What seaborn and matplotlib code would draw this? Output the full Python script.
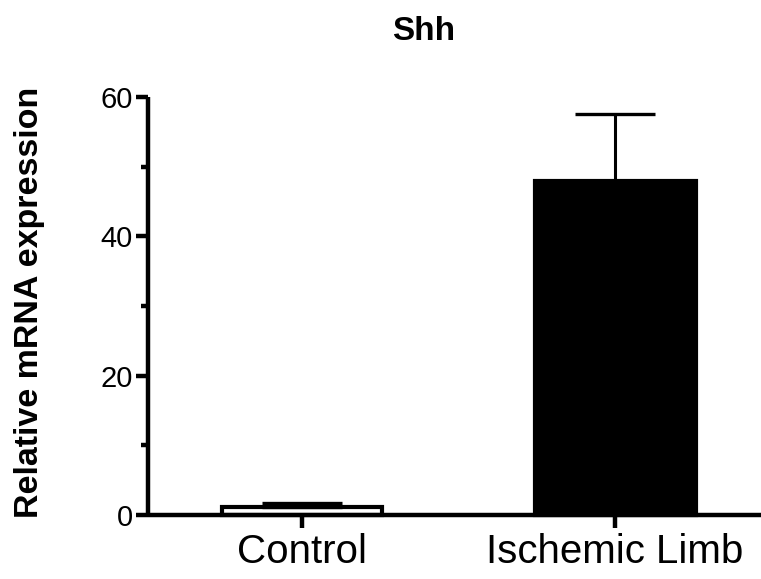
import numpy as np
import pandas as pd
import matplotlib
matplotlib.use("Agg")
import matplotlib.pyplot as plt
import seaborn as sns
from matplotlib.ticker import MultipleLocator

groups = ["Control", "Ischemic Limb"]
means = [1.1, 47.9]
sems = [0.6, 9.6]
bar_colors = ["white", "black"]

sns.set_style("ticks", rc={"axes.edgecolor": "black", "text.color": "black",
                           "xtick.color": "black", "ytick.color": "black",
                           "axes.labelcolor": "black"})
plt.rcParams["font.family"] = ["Liberation Sans", "DejaVu Sans"]

df = pd.DataFrame({"group": groups, "mean": means})

fig = plt.figure(figsize=(7.61, 5.79), dpi=100)
ax = fig.add_axes([148 / 761, 64 / 579, 1 - 148 / 761, 418 / 579])

sns.barplot(data=df, x="group", y="mean", hue="group", palette=bar_colors,
            edgecolor="black", linewidth=3, width=0.514, legend=False, ax=ax)
ax.errorbar(x=np.arange(len(groups)), y=means, yerr=[np.zeros(len(sems)), sems],
            fmt="none", ecolor="black", elinewidth=2.2, capsize=29, capthick=2.4)

ax.set_ylim(0, 60)
ax.set_xlim(-0.492, 1.466)
ax.yaxis.set_major_locator(MultipleLocator(20))
ax.yaxis.set_minor_locator(MultipleLocator(10))
ax.tick_params(axis="y", which="major", length=9, width=3.2, labelsize=21, pad=2)
ax.tick_params(axis="y", which="minor", length=5, width=3.2)
ax.tick_params(axis="x", which="major", length=9, width=3.2, labelsize=29, pad=4)
for s in ["top", "right"]:
    ax.spines[s].set_visible(False)
for s in ["left", "bottom"]:
    ax.spines[s].set_linewidth(3.2)
    ax.spines[s].set_capstyle("butt")
ax.spines["left"].set_bounds(0, 60)
for p in ax.patches:
    p.set_clip_on(False)

ax.set_xlabel("")
ax.set_ylabel("")
fig.text(30 / 761, 1 - 302 / 579, "Relative mRNA expression", rotation=90,
         fontsize=24.5, fontweight="bold", ha="center", va="center")
fig.text(424 / 761, 1 - 32 / 579, "Shh", fontsize=24, fontweight="bold",
         ha="center", va="center")

fig.savefig("out.png", dpi=100)
